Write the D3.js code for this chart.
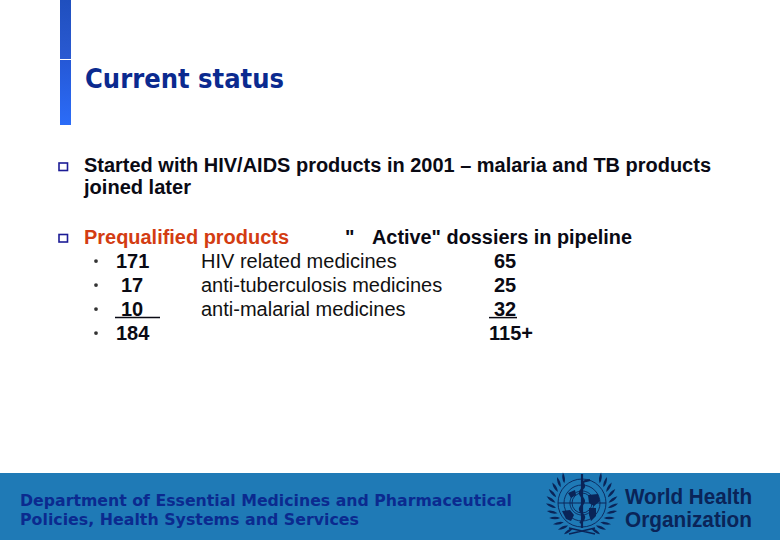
<!DOCTYPE html>
<html>
<head>
<meta charset="utf-8">
<script src="https://cdn.jsdelivr.net/npm/d3@7"></script>
<style>
html, body { margin: 0; padding: 0; background: #fff; }
svg { display: block; }
text { font-family: "Liberation Sans", Arial, sans-serif; white-space: pre; }
</style>
</head>
<body>
<svg id="chart" width="780" height="540"></svg>
<script>
const titleText = 'Current status';
const firstPoint = ['Started with HIV/AIDS products in 2001 – malaria and TB products', 'joined later'];
const leftHeading = 'Prequalified products';
const rightHeading = ['"', 'Active" dossiers in pipeline'];
const rowNames = ['HIV related medicines', 'anti-tuberculosis medicines', 'anti-malarial medicines', ''];
const prequalified = ['171', '17', '10', '184'];
const pipeline = ['65', '25', '32', '115+'];
const footerLines = ['Department of Essential Medicines and Pharmaceutical', 'Policies, Health Systems and Services'];
const logoLines = ['World Health', 'Organization'];

const NAVY = '#0b2a8f';
const svg = d3.select('#chart');
const defs = svg.append('defs');

function addGradient(id, from, to) {
	const g = defs.append('linearGradient').attr('id', id).attr('x1', 0).attr('x2', 0).attr('y1', 0).attr('y2', 1);
	g.append('stop').attr('offset', 0).attr('stop-color', from);
	g.append('stop').attr('offset', 1).attr('stop-color', to);
}
addGradient('barTop', '#1f4fbe', '#2a5ad2');
addGradient('barBottom', '#2558d6', '#2b6cf8');

// side bar next to the title
svg.append('rect').attr('x', 60).attr('y', 0).attr('width', 11).attr('height', 59).attr('fill', 'url(#barTop)');
svg.append('rect').attr('x', 60).attr('y', 60).attr('width', 11).attr('height', 65).attr('fill', 'url(#barBottom)');

svg.append('text')
	.attr('x', 85).attr('y', 88)
	.attr('textLength', 199).attr('lengthAdjust', 'spacingAndGlyphs')
	.style('font-family', '"DejaVu Sans", sans-serif')
	.style('font-weight', 'bold').style('font-size', '27px')
	.attr('fill', NAVY)
	.text(titleText);

function squareBullet(y) {
	svg.append('rect').attr('x', 59).attr('y', y).attr('width', 8.5).attr('height', 7.5)
		.attr('fill', '#fff').attr('stroke', '#1c1c96').attr('stroke-width', 1.6);
}
squareBullet(163);
squareBullet(234.5);

function boldText(x, y, str, fill, len) {
	const t = svg.append('text').attr('x', x).attr('y', y)
		.style('font-weight', 'bold').style('font-size', '20px')
		.attr('fill', fill).text(str);
	if (len) t.attr('textLength', len).attr('lengthAdjust', 'spacingAndGlyphs');
	return t;
}
boldText(84, 171.6, firstPoint[0], '#0a0a14', 627);
boldText(84, 193.6, firstPoint[1], '#0a0a14', 107);
boldText(84, 243.6, leftHeading, '#d33c12', 205);
boldText(345, 243.6, rightHeading[0], '#0a0a14');
boldText(372, 243.6, rightHeading[1], '#0a0a14', 260);

// table rows
const rowY = d3.scalePoint().domain(d3.range(rowNames.length)).range([267.6, 339.6]);

svg.append('g').selectAll('circle').data(rowNames).join('circle')
	.attr('cx', 96).attr('cy', (d, i) => rowY(i) - 6.5).attr('r', 1.9).attr('fill', '#333');

svg.append('g').selectAll('text').data(prequalified).join('text')
	.attr('x', d => d.length > 2 ? 116 : 121)
	.attr('y', (d, i) => rowY(i))
	.style('font-weight', 'bold').style('font-size', '20px').attr('fill', '#0a0a14')
	.text(d => d);

svg.append('g').selectAll('text').data(rowNames).join('text')
	.attr('x', 201)
	.attr('y', (d, i) => rowY(i))
	.style('font-size', '20px').attr('fill', '#111')
	.text(d => d);

svg.append('g').selectAll('text').data(pipeline).join('text')
	.attr('x', d => d.length > 2 ? 489 : 494)
	.attr('y', (d, i) => rowY(i))
	.style('font-weight', 'bold').style('font-size', '20px').attr('fill', '#0a0a14')
	.text(d => d);

// sum lines under the third row
svg.append('line').attr('x1', 115).attr('x2', 160).attr('y1', rowY(2) + 2).attr('y2', rowY(2) + 2)
	.attr('stroke', '#0a0a14').attr('stroke-width', 1.5);
svg.append('line').attr('x1', 489).attr('x2', 517).attr('y1', rowY(2) + 2).attr('y2', rowY(2) + 2)
	.attr('stroke', '#0a0a14').attr('stroke-width', 1.5);

// footer band
svg.append('rect').attr('x', 0).attr('y', 473).attr('width', 780).attr('height', 67).attr('fill', '#1f7ab6');

svg.append('g').selectAll('text').data(footerLines).join('text')
	.attr('x', 20)
	.attr('y', (d, i) => 506 + i * 19)
	.attr('textLength', (d, i) => i === 0 ? 492 : 339)
	.attr('lengthAdjust', 'spacingAndGlyphs')
	.style('font-family', '"DejaVu Sans", sans-serif')
	.style('font-weight', 'bold').style('font-size', '15px')
	.attr('fill', '#0b2a8f')
	.text(d => d);

// WHO emblem
const INK = '#0a2458';
const emblem = svg.append('g').attr('transform', 'translate(582,503)');
const projection = d3.geoAzimuthalEquidistant().rotate([0, -90]).scale(24 / Math.PI).translate([0, 0]).clipAngle(180);
const geoPath = d3.geoPath(projection);
const spokes = d3.geoGraticule().step([90, 360]).extent([[-180, -89.9], [180, 89.9]]);
emblem.append('path').datum(spokes()).attr('d', geoPath)
	.attr('fill', 'none').attr('stroke', INK).attr('stroke-width', 1);
emblem.selectAll('circle').data([24, 18, 10]).join('circle')
	.attr('r', d => d)
	.attr('fill', 'none').attr('stroke', INK).attr('stroke-width', 0.9);

// land masses, rough
emblem.append('path').attr('fill', INK)
	.attr('d', 'M-20,8 L-12,7 L-8,12 L-11,18 L-16,16 Z M6,-8 L16,-9 L18,-2 L12,3 L7,0 Z M7,5 L14,5 L14,13 L9,18 L7,12 Z M-14,-10 L-7,-13 L-6,-8 L-11,-5 Z');

// staff and serpent
emblem.append('line').attr('x1', 0).attr('x2', 0).attr('y1', -29).attr('y2', 25)
	.attr('stroke', INK).attr('stroke-width', 2.2);
emblem.append('path')
	.attr('d', d3.line().curve(d3.curveBasis)([[-2, 20], [5, 14], [-6, 6], [6, -2], [-6, -10], [5, -17], [-2, -21], [8, -23]]))
	.attr('fill', 'none').attr('stroke', INK).attr('stroke-width', 2.2);

// laurel branches, one leaf per angle on each side
const leafAngles = d3.range(11);
const leafAngle = d3.scaleLinear().domain([0, 10]).range([160, 42]);
[1, -1].forEach(side => {
	emblem.append('g').selectAll('path').data(leafAngles).join('path')
		.attr('d', 'M0,0 Q2.6,-5 0,-11 Q-2.6,-5 0,0 Z')
		.attr('fill', INK)
		.attr('transform', d => `scale(${side},1) rotate(${leafAngle(d)}) translate(0,-26.5) rotate(-35)`);
});
emblem.append('path').attr('d', 'M-13,25 L13,31 M13,25 L-13,31')
	.attr('fill', 'none').attr('stroke', INK).attr('stroke-width', 1.5);

svg.append('g').selectAll('text').data(logoLines).join('text')
	.attr('x', 625)
	.attr('y', (d, i) => 504 + i * 23)
	.attr('textLength', 127)
	.attr('lengthAdjust', 'spacingAndGlyphs')
	.style('font-family', '"Liberation Sans Narrow", "Liberation Sans", sans-serif')
	.style('font-weight', 'bold').style('font-size', '22px')
	.attr('fill', INK)
	.text(d => d);
</script>
</body>
</html>
